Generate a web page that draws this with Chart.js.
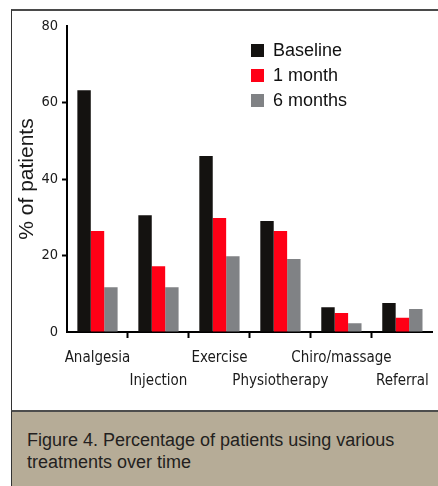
<!DOCTYPE html>
<html>
<head>
<meta charset="utf-8">
<script src="https://cdn.jsdelivr.net/npm/chart.js@4"></script>
<style>
  body { margin: 0; background: #fff; }
  #wrap { position: relative; width: 438px; height: 486px; overflow: hidden; background: #fff; }
  #frame { position: absolute; left: 11px; top: 9px; width: 427px; height: 477px;
           border-top: 2px solid #4a4a4a; border-left: 1px solid #333; box-sizing: border-box; }
  #chartBox { position: absolute; left: 0; top: 0; width: 438px; height: 410px; }
  #legend { position: absolute; left: 251px; top: 38px; font: 18px "Liberation Sans", Arial, sans-serif; color: #111; }
  .item { display: flex; align-items: center; height: 25px; }
  .box { width: 13px; height: 13px; margin-right: 9px; }
  #caption { position: absolute; left: 11px; top: 410px; width: 427px; height: 76px; box-sizing: border-box;
             background: #b6ac97; border-top: 2px solid #4d4d4d; border-left: 1px solid #333;
             padding: 17px 0 0 15px; font: 18px "Liberation Sans", Arial, sans-serif; line-height: 22px; color: #231f20; }
</style>
</head>
<body>
<div id="wrap">
  <div id="frame"></div>
  <div id="chartBox"><canvas id="resultsChart" width="438" height="410"></canvas></div>
  <div id="legend"></div>
  <div id="caption">Figure 4. Percentage of patients using various<br>treatments over time</div>
</div>
<script>
// 类别与数据
const categories = ['Analgesia', 'Injection', 'Exercise', 'Physiotherapy', 'Chiro/massage', 'Referral'];
const seriesNames = ['Baseline', '1 month', '6 months'];
const baseline = [63.2, 30.5, 46.0, 29.0, 6.5, 7.6];
const oneMonth = [26.4, 17.2, 29.8, 26.4, 5.0, 3.7];
const sixMonths = [11.7, 11.7, 19.8, 19.1, 2.3, 6.0];
const yTicks = [0, 20, 40, 60, 80];
const colors = ['#141210', '#ff0016', '#808285'];

// 标签交错两行
const labels = categories.map((c, i) => i % 2 === 0 ? [c] : ['', c]);
const narrow = '"DejaVu Sans Condensed", "DejaVu Sans", sans-serif';

const ctx = document.getElementById('resultsChart').getContext('2d');
new Chart(ctx, {
    type: 'bar',
    data: {
        labels: labels,
        datasets: [baseline, oneMonth, sixMonths].map((d, i) => ({
            label: seriesNames[i],
            data: d,
            backgroundColor: colors[i],
            borderWidth: 0,
            categoryPercentage: 0.66,
            barPercentage: 1
        }))
    },
    options: {
        responsive: false,
        animation: false,
        layout: { padding: { top: 26, right: 2, left: 15, bottom: 0 } },
        plugins: { legend: { display: false }, tooltip: { enabled: false } },
        scales: {
            x: {
                afterFit: s => { s.height = 78; },
                border: { display: true, color: '#000', width: 2 },
                grid: {
                    drawOnChartArea: false,
                    offset: true,
                    tickLength: 6,
                    tickWidth: 2,
                    tickColor: c => (c.type === 'tick' && c.index > 0) ? '#000' : 'rgba(0,0,0,0)'
                },
                ticks: {
                    autoSkip: false,
                    maxRotation: 0,
                    padding: 9,
                    color: '#1a1a1a',
                    font: { family: narrow, size: 15, lineHeight: 1.53 }
                }
            },
            y: {
                min: 0,
                max: 80,
                afterFit: s => { s.width = 52; },
                afterBuildTicks: s => { s.ticks = yTicks.map(v => ({ value: v })); },
                border: { display: true, color: '#000', width: 2 },
                grid: {
                    drawOnChartArea: false,
                    tickLength: 5,
                    tickWidth: 2,
                    tickColor: c => (c.tick && c.tick.value > 0 && c.tick.value < 80) ? '#000' : 'rgba(0,0,0,0)'
                },
                ticks: {
                    padding: 4,
                    color: '#1a1a1a',
                    font: { family: narrow, size: 14.5 }
                },
                title: {
                    display: true,
                    text: '% of patients',
                    color: '#1a1a1a',
                    font: { family: '"Liberation Sans", Arial, sans-serif', size: 21 },
                    padding: { top: 0, bottom: 0 }
                }
            }
        }
    }
});

// 图例
const legend = document.getElementById('legend');
seriesNames.forEach((name, i) => {
    const row = document.createElement('div');
    row.className = 'item';
    row.innerHTML = '<span class="box" style="background:' + colors[i] + '"></span><span>' + name + '</span>';
    legend.appendChild(row);
});
</script>
</body>
</html>
